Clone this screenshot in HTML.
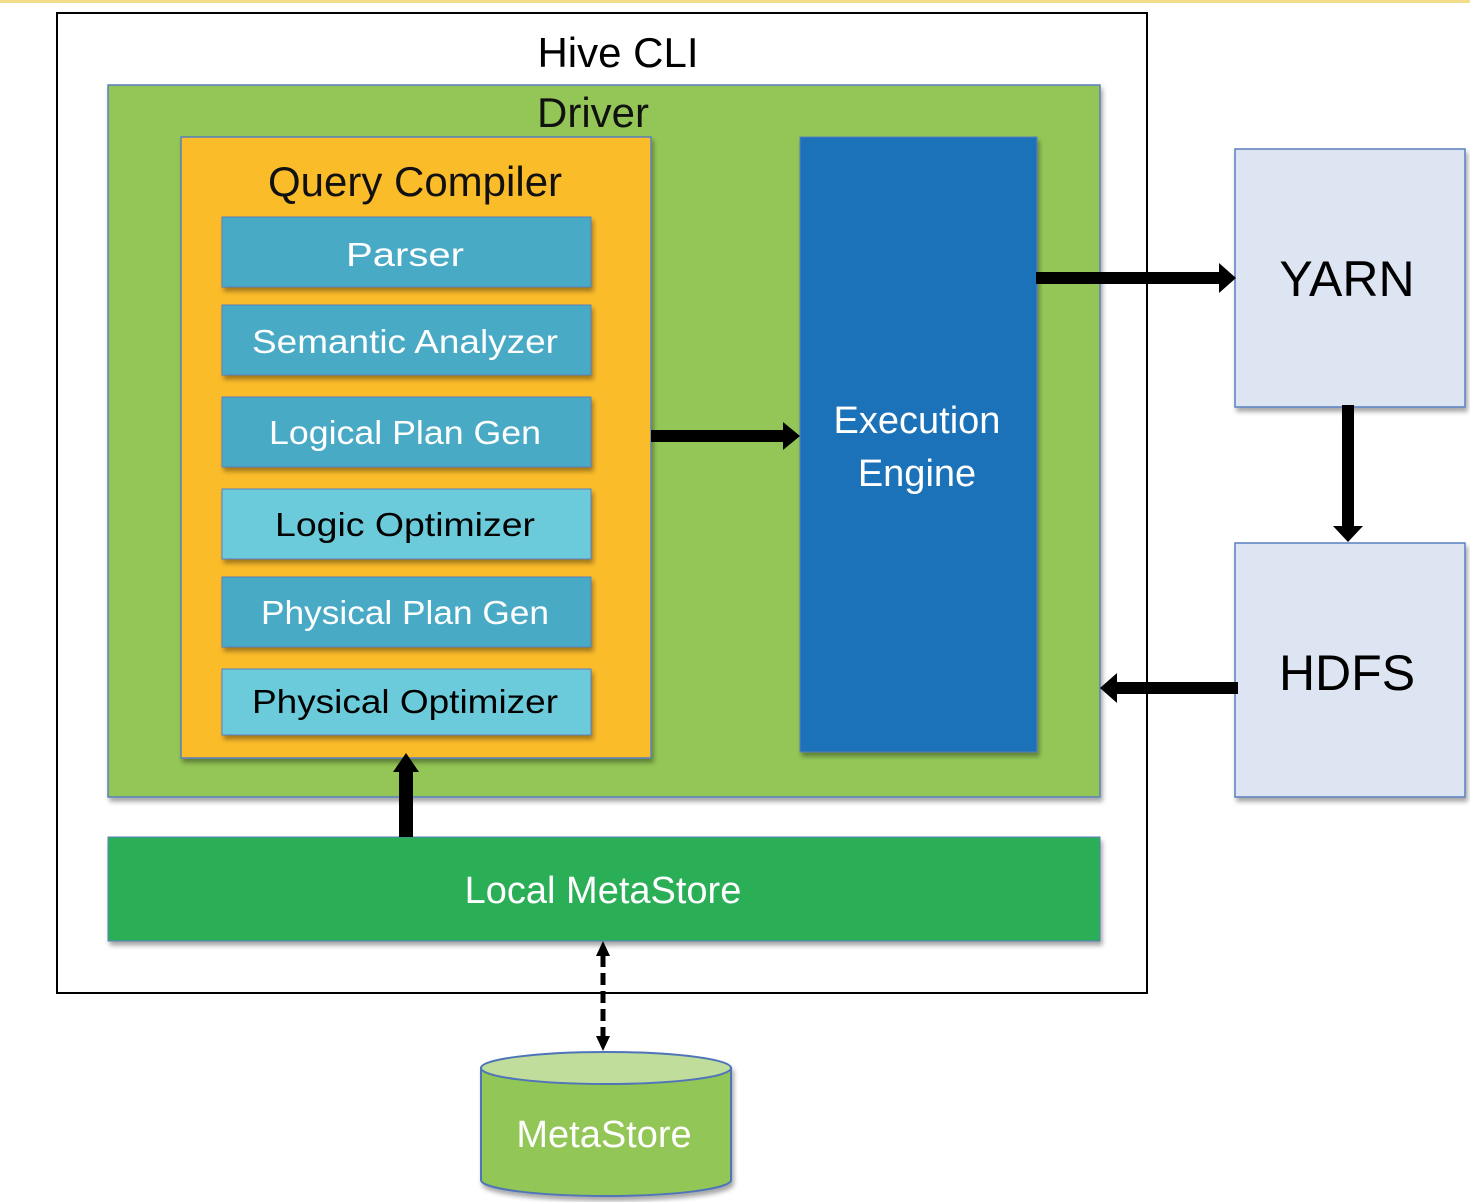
<!DOCTYPE html>
<html><head><meta charset="utf-8"><style>
html,body{margin:0;padding:0;background:#fff;}
svg{display:block;}
text{font-family:"Liberation Sans",sans-serif;}
</style></head><body>
<svg width="1470" height="1202" viewBox="0 0 1470 1202" xmlns="http://www.w3.org/2000/svg">
<defs>
<filter id="sh" x="-5%" y="-5%" width="115%" height="125%"><feDropShadow dx="2" dy="4" stdDeviation="2.5" flood-color="#000" flood-opacity="0.35"/></filter>
</defs>
<rect x="0" y="0" width="1470" height="3" fill="#f3dc8a"/>
<!-- Hive CLI -->
<rect x="57" y="13" width="1090" height="980" fill="#fff" stroke="#000" stroke-width="2"/>
<text x="618" y="67" font-size="42" text-anchor="middle" fill="#000">Hive CLI</text>
<!-- Driver -->
<rect x="108" y="85" width="992" height="712" fill="#93c656" stroke="#5a7fbf" stroke-width="1.5" filter="url(#sh)"/>
<text x="593" y="127" font-size="42" text-anchor="middle" fill="#111">Driver</text>
<!-- Query compiler -->
<rect x="181" y="137" width="470" height="621" fill="#fbbc2c" stroke="#5a7fbf" stroke-width="1.5" filter="url(#sh)"/>
<text x="415" y="196" font-size="42" text-anchor="middle" fill="#111">Query Compiler</text>
<g filter="url(#sh)">
<rect x="222" y="217" width="369" height="70" fill="#4aaac6" stroke="#5a7fbf"/>
<rect x="222" y="305" width="369" height="70" fill="#4aaac6" stroke="#5a7fbf"/>
<rect x="222" y="397" width="369" height="70" fill="#4aaac6" stroke="#5a7fbf"/>
<rect x="222" y="489" width="369" height="70" fill="#6ccbdb" stroke="#5a7fbf"/>
<rect x="222" y="577" width="369" height="70" fill="#4aaac6" stroke="#5a7fbf"/>
<rect x="222" y="669" width="369" height="66" fill="#6ccbdb" stroke="#5a7fbf"/>
</g>
<g font-size="33" text-anchor="middle">
<text x="405" y="266" fill="#fff" textLength="118" lengthAdjust="spacingAndGlyphs">Parser</text>
<text x="405" y="353" fill="#fff" textLength="306" lengthAdjust="spacingAndGlyphs">Semantic Analyzer</text>
<text x="405" y="444" fill="#fff" textLength="272" lengthAdjust="spacingAndGlyphs">Logical Plan Gen</text>
<text x="405" y="536" fill="#000" textLength="260" lengthAdjust="spacingAndGlyphs">Logic Optimizer</text>
<text x="405" y="624" fill="#fff" textLength="288" lengthAdjust="spacingAndGlyphs">Physical Plan Gen</text>
<text x="405" y="713" fill="#000" textLength="306" lengthAdjust="spacingAndGlyphs">Physical Optimizer</text>
</g>
<!-- Execution Engine -->
<rect x="800" y="137" width="237" height="615" fill="#1b72b8" stroke="#5a7fbf" filter="url(#sh)"/>
<text x="917" y="433" font-size="38" text-anchor="middle" fill="#fff">Execution</text>
<text x="917" y="486" font-size="38" text-anchor="middle" fill="#fff">Engine</text>
<!-- YARN / HDFS -->
<rect x="1235" y="149" width="230" height="258" fill="#dce5f1" stroke="#5a7fbf" stroke-width="1.5" filter="url(#sh)"/>
<text x="1347" y="296" font-size="50" text-anchor="middle" fill="#000">YARN</text>
<rect x="1235" y="543" width="230" height="254" fill="#dce5f1" stroke="#5a7fbf" stroke-width="1.5" filter="url(#sh)"/>
<text x="1347" y="690" font-size="50" text-anchor="middle" fill="#000">HDFS</text>
<!-- Local MetaStore -->
<rect x="108" y="837" width="992" height="104" fill="#2bae56" stroke="#5a7fbf" filter="url(#sh)"/>
<text x="603" y="903" font-size="38" text-anchor="middle" fill="#fff">Local MetaStore</text>
<!-- arrows -->
<g fill="#000">
<rect x="651" y="430" width="134" height="12"/><polygon points="783,422 800,436 783,450"/>
<rect x="1036" y="272" width="185" height="12"/><polygon points="1219,263 1236,278 1219,293"/>
<rect x="1342" y="405" width="12" height="123"/><polygon points="1333,526 1363,526 1348,542"/>
<rect x="1115" y="682" width="123" height="12"/><polygon points="1117,673 1100,688 1117,703"/>
<rect x="399" y="770" width="14" height="67"/><polygon points="393,772 419,772 406,753"/>
</g>
<!-- dashed -->
<line x1="603" y1="955" x2="603" y2="1038" stroke="#000" stroke-width="5" stroke-dasharray="12,6"/>
<polygon points="596,956 610,956 603,941" fill="#000"/>
<polygon points="596,1036 610,1036 603,1051" fill="#000"/>
<!-- cylinder -->
<g filter="url(#sh)">
<path d="M481,1068 L481,1180 A125,16 0 0 0 731,1180 L731,1068 Z" fill="#92c656" stroke="#4f74b8" stroke-width="2"/>
<ellipse cx="606" cy="1068" rx="125" ry="16" fill="#c0dd9c" stroke="#4f74b8" stroke-width="2"/>
</g>
<text x="604" y="1147" font-size="38" text-anchor="middle" fill="#fff">MetaStore</text>
</svg>
</body></html>
